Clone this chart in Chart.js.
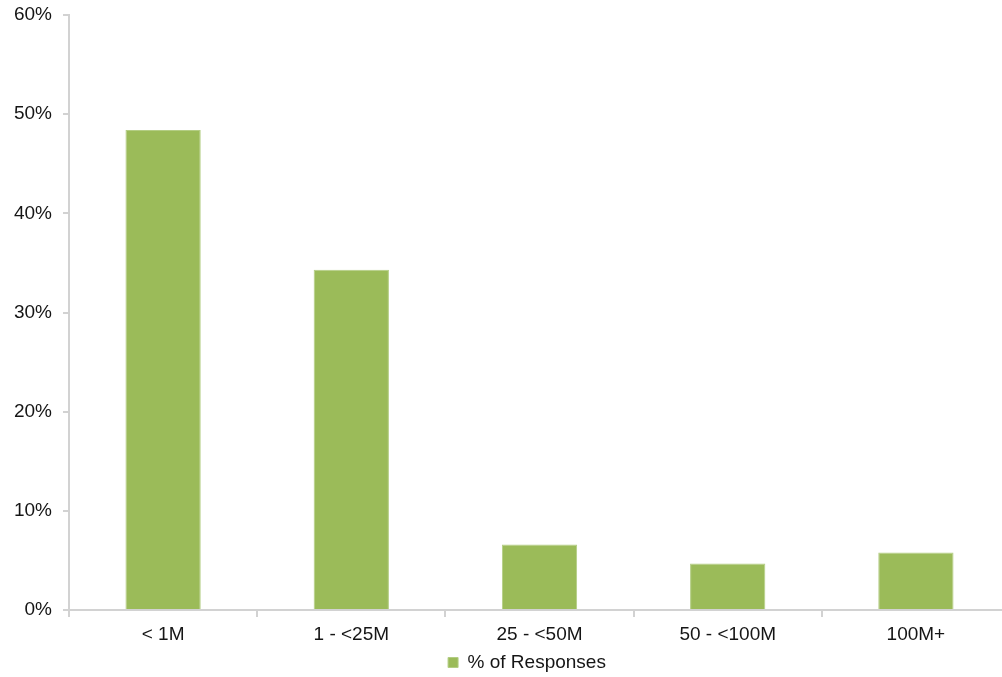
<!DOCTYPE html>
<html>
<head>
<meta charset="utf-8">
<title>% of Responses</title>
<script src="https://cdn.jsdelivr.net/npm/chart.js@4/dist/chart.umd.min.js"></script>
<style>
  html, body { margin: 0; padding: 0; background: #ffffff; overflow: hidden; }
  /* the plot runs a little past the right edge of the page */
  #wrap { width: 1002px; height: 677px; overflow: hidden; }
</style>
</head>
<body>
<div id="wrap"><canvas id="chart" width="1010" height="677"></canvas></div>
<script>
// Revenue bands and the share of responses in each (percent)
const categories = ['< 1M', '1 - <25M', '25 - <50M', '50 - <100M', '100M+'];
const responses = [48.4, 34.3, 6.6, 4.7, 5.8];
const seriesLabel = '% of Responses';
const yTicks = [0, 10, 20, 30, 40, 50, 60];

const axisGray = '#d2d2d2';
const textColor = '#151515';
const font = { family: '"Liberation Sans", Arial, sans-serif', size: 19 };

// nudges the bottom legend so it sits under the plot
const legendShift = {
  id: 'legendShift',
  afterLayout(chart, args, opts) {
    const lg = chart.legend;
    if (lg) {
      lg.left += opts.dx; lg.right += opts.dx;
      lg.top += opts.dy; lg.bottom += opts.dy;
    }
  }
};

new Chart(document.getElementById('chart'), {
  type: 'bar',
  data: {
    labels: categories,
    datasets: [{
      label: seriesLabel,
      data: responses,
      backgroundColor: '#9bbb59',
      borderColor: '#b3cd83',
      borderWidth: 1,
      categoryPercentage: 1.0,
      barPercentage: 0.4
    }]
  },
  options: {
    responsive: false,
    devicePixelRatio: 1,
    animation: false,
    layout: { padding: { top: 15, right: 0, left: 0, bottom: 0 } },
    plugins: {
      tooltip: { enabled: false },
      legendShift: { dx: 22, dy: 5 },
      legend: {
        position: 'bottom',
        labels: {
          color: textColor,
          font: font,
          boxWidth: 10,
          boxHeight: 10,
          padding: 6
        }
      }
    },
    scales: {
      x: {
        grid: {
          display: true,
          offset: true,
          drawOnChartArea: false,
          drawTicks: true,
          tickLength: 7,
          color: axisGray,
          lineWidth: 2
        },
        border: { display: true, color: axisGray, width: 2 },
        ticks: { color: textColor, font: font, padding: 6, maxRotation: 0 },
        afterFit(scale) { scale.height = 32; }
      },
      y: {
        min: 0,
        max: 60,
        afterBuildTicks(scale) { scale.ticks = yTicks.map(v => ({ value: v })); },
        grid: {
          display: true,
          drawOnChartArea: false,
          drawTicks: true,
          tickLength: 6,
          color: axisGray,
          lineWidth: 2
        },
        border: { display: true, color: axisGray, width: 2 },
        ticks: {
          color: textColor,
          font: font,
          padding: 11,
          callback: v => v + '%'
        },
        afterFit(scale) {
          scale.width = 69;
          scale.paddingTop = 0;
        }
      }
    }
  },
  plugins: [legendShift]
});
</script>
</body>
</html>
